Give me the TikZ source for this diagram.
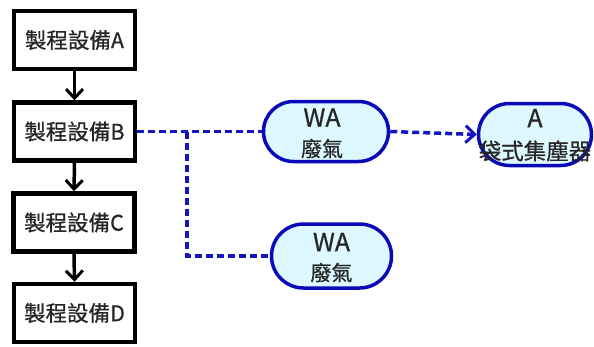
\documentclass[tikz,border=0pt]{standalone}
\usepackage{fontspec}
\setmainfont{Noto Sans CJK TC}[FakeBold=0.7]
\usetikzlibrary{arrows.meta,shapes.misc}
\definecolor{pillblue}{HTML}{0A0AB8}
\definecolor{dashblue}{HTML}{1515C0}
\definecolor{pillfill}{HTML}{DDF9FF}
\definecolor{txt}{HTML}{262626}
\tikzset{
  stepbox/.style={draw=black, line width=4.5pt, fill=white, rectangle,
    minimum width=121pt, minimum height=58pt, inner sep=0pt, text=txt,
    font=\fontsize{21.5}{23}\selectfont},
  pill/.style={draw=pillblue, line width=3.5pt, fill=pillfill, rounded rectangle,
    inner sep=0pt},
  bigtxt/.style={text=txt, inner sep=0pt, font=\fontsize{25}{27}\selectfont},
  smalltxt/.style={text=txt, inner sep=0pt, font=\fontsize{21}{23}\selectfont},
  tip/.style={-{Straight Barb[length=9pt,width=17pt,line width=3pt]}},
  flow/.style={draw=black, line width=3.5pt, tip},
  gas/.style={draw=dashblue, line width=3.5pt, dash pattern=on 7pt off 4pt},
}
\begin{document}
\begin{tikzpicture}[x=1pt,y=-1pt]
\useasboundingbox (0,0) rectangle (594,346);
% process boxes
\node[stepbox] (A) at (74.5,40) {製程設備A};
\node[stepbox] (B) at (74.5,131.5) {製程設備B};
\node[stepbox] (C) at (74,222.5) {製程設備C};
\node[stepbox] (D) at (74.5,313) {製程設備D};
\draw[flow] (A.south) -- (B.north);
\draw[flow] (B.south) -- (C.north);
\draw[flow] (C.south) -- (D.north);
% pills
\node[pill, minimum width=125pt, minimum height=60pt] (W1) at (326,131.5) {};
\node[pill, minimum width=120pt, minimum height=64pt] (W2) at (331.5,256) {};
\node[pill, minimum width=113pt, minimum height=62pt] (P) at (535,134.5) {};
\node[bigtxt] (W1a) at ([xshift=-4pt,yshift=14pt]W1.center) {WA};
\node[smalltxt] (W1b) at ([xshift=-4pt,yshift=-17pt]W1.center) {廢氣};
\node[bigtxt] (W2a) at ([yshift=14pt]W2.center) {WA};
\node[smalltxt] (W2b) at ([yshift=-16.5pt]W2.center) {廢氣};
\node[bigtxt] (Pa) at ([yshift=16.5pt]P.center) {A};
\node[text=txt, inner sep=0pt, font=\fontsize{22.5}{24}\selectfont] (Pb) at ([yshift=-16.5pt]P.center) {袋式集塵器};
% gas lines
\coordinate (j) at (187,131.5);
\draw[gas] (B.east) -- (W1.west);
\draw[gas] (j) |- (W2.west);
\draw[gas, tip] (W1.east) -- (P.west);
\end{tikzpicture}
\end{document}
